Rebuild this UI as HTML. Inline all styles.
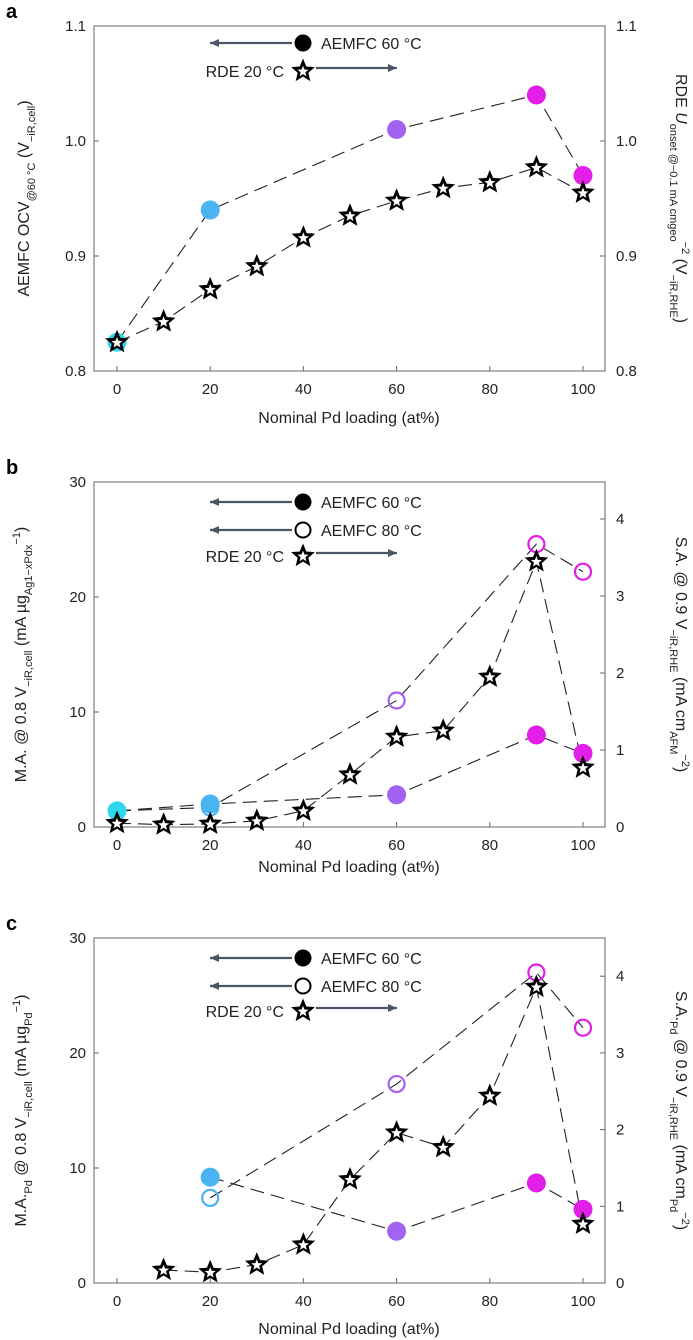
<!DOCTYPE html>
<html><head><meta charset="utf-8">
<style>
html,body{margin:0;padding:0;background:#fff;}
svg{display:block;font-family:"Liberation Sans",sans-serif;}
</style></head>
<body>
<svg id="fig" width="693" height="1340" viewBox="0 0 693 1340"></svg>
<script>
// ---- data ----
const xTicks = [0, 20, 40, 60, 80, 100];
// Panel a
const aCircleX = [0, 20, 60, 90, 100];
const aCircleY = [0.825, 0.94, 1.01, 1.04, 0.97];
const aStarX = [0, 10, 20, 30, 40, 50, 60, 70, 80, 90, 100];
const aStarY = [0.825, 0.843, 0.871, 0.891, 0.916, 0.935, 0.948, 0.959, 0.964, 0.977, 0.955];
const aLeftTicks = [0.8, 0.9, 1.0, 1.1];
const aLeftTickLabels = ["0.8", "0.9", "1.0", "1.1"];
// Panel b
const bFilledX = [0, 20, 60, 90, 100];
const bFilledY = [1.4, 2.0, 2.8, 8.0, 6.4];
const bOpenX = [0, 20, 60, 90, 100];
const bOpenY = [1.4, 1.7, 11.0, 24.6, 22.2];
const bStarX = [0, 10, 20, 30, 40, 50, 60, 70, 80, 90, 100];
const bStarY = [0.05, 0.03, 0.04, 0.08, 0.21, 0.68, 1.17, 1.25, 1.95, 3.45, 0.77];
// Panel c
const cFilledX = [20, 60, 90, 100];
const cFilledY = [9.2, 4.5, 8.7, 6.4];
const cOpenX = [20, 60, 90, 100];
const cOpenY = [7.4, 17.3, 27.0, 22.2];
const cStarX = [10, 20, 30, 40, 50, 60, 70, 80, 90, 100];
const cStarY = [0.17, 0.14, 0.24, 0.50, 1.35, 1.96, 1.77, 2.44, 3.86, 0.77];
const maLeftTicks = [0, 10, 20, 30];
const maLeftTickLabels = ["0", "10", "20", "30"];
const saRightTicks = [0, 1, 2, 3, 4];
const saRightTickLabels = ["0", "1", "2", "3", "4"];

const colorFor = {0: "#2fd6ee", 20: "#4ab3f2", 60: "#a262f2", 90: "#e21ee8", 100: "#e21ee8", 10: "#4ab3f2"};

const NS = "http://www.w3.org/2000/svg";
const svg = document.getElementById('fig');
function el(tag, attrs, parent) {
  const e = document.createElementNS(NS, tag);
  for (const k in attrs) e.setAttribute(k, attrs[k]);
  (parent || svg).appendChild(e);
  return e;
}
const L = 94, R = 605;
function xs(v) { return 117 + v * 4.66; }

function starPath(cx, cy, ro, ri) {
  let d = "";
  for (let i = 0; i < 10; i++) {
    const r = i % 2 ? ri : ro;
    const a = -Math.PI / 2 + i * Math.PI / 5;
    d += (i ? "L" : "M") + (cx + r * Math.cos(a)).toFixed(2) + "," + (cy + r * Math.sin(a)).toFixed(2);
  }
  return d + "Z";
}
function drawStar(g, cx, cy, name) {
  const s = el('g', {}, g);
  
  
  el('path', {d: starPath(cx, cy, 12.5, 5.6), fill: '#000'}, s);
  el('path', {d: starPath(cx, cy + 0.5, 5.8, 2.5), fill: '#fff'}, s);
}
function dashed(g, pts, name) {
  const p = el('polyline', {points: pts.map(p => p.join(',')).join(' '), fill: 'none', stroke: '#222', 'stroke-width': 1.1, 'stroke-dasharray': '14 7'}, g);
  
  
}
function arrow(g, x1, x2, y, name) {
  const a = el('g', {}, g);
  
  
  el('line', {x1: x1, y1: y, x2: x2, y2: y, stroke: '#4a5566', 'stroke-width': 2.2}, a);
  const dir = x2 > x1 ? 1 : -1;
  el('path', {d: `M${x2},${y} L${x2 - dir * 9},${y - 4} L${x2 - dir * 9},${y + 4}Z`, fill: '#4a5566'}, a);
}
function text(g, x, y, s, attrs, name) {
  const t = el('text', Object.assign({x: x, y: y, 'font-size': 15, fill: '#222'}, attrs || {}), g);
  t.textContent = s;
  
  
  return t;
}

function panel(opt) {
  const g = el('g', {});
  
  
  const T = opt.top, B = opt.bottom;
  const yl = v => B - (v - opt.lmin) / (opt.lmax - opt.lmin) * (B - T);
  const yr = v => B - (v - opt.rmin) / (opt.rmax - opt.rmin) * (B - T);
  text(g, 6, T - 8, opt.id, {'font-size': 20, 'font-weight': 'bold', fill: '#000'}, 'panel-label-' + opt.id);
  const fr = el('rect', {x: L, y: T, width: R - L, height: B - T, fill: 'none', stroke: '#666', 'stroke-width': 1}, g);
  
  
  xTicks.forEach(v => {
    el('line', {x1: xs(v), x2: xs(v), y1: B, y2: B - 5, stroke: '#666'}, g);
    text(g, xs(v), B + 23, String(v), {'text-anchor': 'middle'}, 'x-tick-label');
  });
  opt.lticks.forEach((v, i) => {
    el('line', {x1: L, x2: L + 5, y1: yl(v), y2: yl(v), stroke: '#666'}, g);
    text(g, L - 8, yl(v) + 5, opt.llabels[i], {'text-anchor': 'end'}, 'left-tick-label');
  });
  opt.rticks.forEach((v, i) => {
    el('line', {x1: R, x2: R - 5, y1: yr(v), y2: yr(v), stroke: '#666'}, g);
    text(g, R + 11, yr(v) + 5, opt.rlabels[i], {}, 'right-tick-label');
  });
  text(g, 349, opt.xtitleY, 'Nominal Pd loading (at%)', {'text-anchor': 'middle', 'font-size': 16}, 'x-axis-title');
  const lt = text(g, 0, 0, '', {'text-anchor': 'middle', 'font-size': 16, transform: `translate(${opt.ltx},${(T + B) / 2}) rotate(-90)`}, 'left-axis-title');
  lt.innerHTML = opt.ltitle;
  const rt = text(g, 0, 0, '', {'text-anchor': 'middle', 'font-size': 16, transform: `translate(${opt.rtx},${(T + B) / 2}) rotate(90)`}, 'right-axis-title');
  rt.innerHTML = opt.rtitle;
  const ly = opt.legendY;
  arrow(g, 292, 210, ly[0], 'legend-arrow-left');
  const lc = el('circle', {cx: 303, cy: ly[0], r: 8.5, fill: '#000'}, g);
  
  
  text(g, 321, ly[0] + 6, 'AEMFC 60 °C', {'font-size': 16}, 'legend-entry-60c');
  if (opt.hasOpen) {
    arrow(g, 292, 210, ly[1], 'legend-arrow-left-80c');
    const oc = el('circle', {cx: 303, cy: ly[1], r: 7.5, fill: 'none', stroke: '#000', 'stroke-width': 2}, g);
    
    
    text(g, 321, ly[1] + 6, 'AEMFC 80 °C', {'font-size': 16}, 'legend-entry-80c');
  }
  const ry = ly[ly.length - 1];
  text(g, 284, ry + 6, 'RDE 20 °C', {'font-size': 16, 'text-anchor': 'end'}, 'legend-entry-rde');
  drawStar(g, 303, ry, 'legend-marker-rde');
  arrow(g, 316, 397, ry - 3, 'legend-arrow-right');
  dashed(g, opt.fx.map((x, i) => [xs(x), yl(opt.fy[i])]), 'line-aemfc-60c');
  if (opt.hasOpen) dashed(g, opt.ox.map((x, i) => [xs(x), yl(opt.oy[i])]), 'line-aemfc-80c');
  dashed(g, opt.sx.map((x, i) => [xs(x), yr(opt.sy[i])]), 'line-rde');
  opt.fx.forEach((x, i) => {
    const c = el('circle', {cx: xs(x), cy: yl(opt.fy[i]), r: 9.5, fill: colorFor[x]}, g);
    
    
  });
  if (opt.hasOpen) opt.ox.forEach((x, i) => {
    const c = el('circle', {cx: xs(x), cy: yl(opt.oy[i]), r: 8, fill: 'none', stroke: colorFor[x], 'stroke-width': 2.2}, g);
    
    
  });
  opt.sx.forEach((x, i) => drawStar(g, xs(x), yr(opt.sy[i]), 'point-rde'));
}

const sub = (s) => `<tspan baseline-shift="sub" font-size="11">${s}</tspan>`;
const sup = (s) => `<tspan baseline-shift="super" font-size="11">${s}</tspan>`;

panel({id: 'a', top: 26, bottom: 371, lmin: 0.8, lmax: 1.1, rmin: 0.8, rmax: 1.1,
  lticks: aLeftTicks, llabels: aLeftTickLabels, rticks: aLeftTicks, rlabels: aLeftTickLabels,
  xtitleY: 423, ltx: 29, rtx: 676,
  ltitle: 'AEMFC OCV' + sub('@60 °C') + ' (V' + sub('−iR,cell') + ')',
  rtitle: 'RDE <tspan font-style="italic">U</tspan>' + sub('onset @−0.1 mA cm') + sub('geo') + sup('−2') + ' (V' + sub('−iR,RHE') + ')',
  legendY: [43, 71], hasOpen: false,
  fx: aCircleX, fy: aCircleY, sx: aStarX, sy: aStarY});

panel({id: 'b', top: 482, bottom: 827, lmin: 0, lmax: 30, rmin: 0, rmax: 345 / 77,
  lticks: maLeftTicks, llabels: maLeftTickLabels, rticks: saRightTicks, rlabels: saRightTickLabels,
  xtitleY: 872, ltx: 26, rtx: 676,
  ltitle: 'M.A. @ 0.8 V' + sub('−iR,cell') + ' (mA µg' + sub('Ag1−xPdx') + sup('−1') + ')',
  rtitle: 'S.A. @ 0.9 V' + sub('−iR,RHE') + ' (mA cm' + sub('AFM') + sup('−2') + ')',
  legendY: [502, 530, 556], hasOpen: true,
  fx: bFilledX, fy: bFilledY, ox: bOpenX, oy: bOpenY, sx: bStarX, sy: bStarY});

panel({id: 'c', top: 938, bottom: 1283, lmin: 0, lmax: 30, rmin: 0, rmax: 345 / 76.7,
  lticks: maLeftTicks, llabels: maLeftTickLabels, rticks: saRightTicks, rlabels: saRightTickLabels,
  xtitleY: 1334, ltx: 26, rtx: 676,
  ltitle: 'M.A.' + sub('Pd') + ' @ 0.8 V' + sub('−iR,cell') + ' (mA µg' + sub('Pd') + sup('−1') + ')',
  rtitle: 'S.A.' + sub('Pd') + ' @ 0.9 V' + sub('−iR,RHE') + ' (mA cm' + sub('Pd') + sup('−2') + ')',
  legendY: [958, 986, 1011], hasOpen: true,
  fx: cFilledX, fy: cFilledY, ox: cOpenX, oy: cOpenY, sx: cStarX, sy: cStarY});
</script>
</body></html>
